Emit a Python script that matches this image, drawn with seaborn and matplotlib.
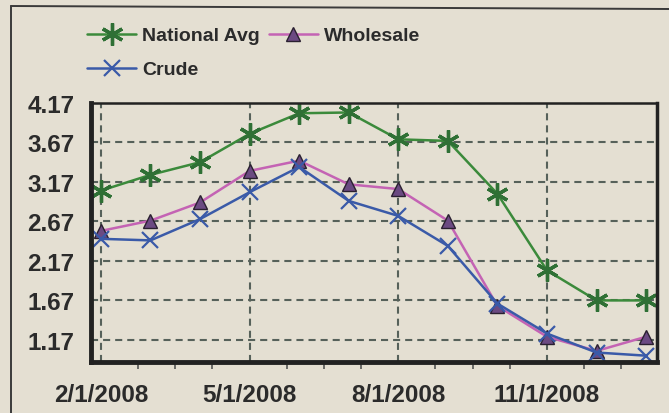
import matplotlib
matplotlib.use("Agg")
import matplotlib.pyplot as plt
import matplotlib.ticker as ticker
from matplotlib.lines import Line2D
import seaborn as sns
import pandas as pd

# monthly gas prices, Feb 2008 - Jan 2009
months = ["2/1/2008", "3/1/2008", "4/1/2008", "5/1/2008", "6/1/2008", "7/1/2008",
          "8/1/2008", "9/1/2008", "10/1/2008", "11/1/2008", "12/1/2008", "1/1/2009"]
national_avg = [3.06, 3.26, 3.42, 3.78, 4.04, 4.05, 3.71, 3.69, 3.02, 2.05, 1.67, 1.67]
wholesale = [2.55, 2.68, 2.91, 3.31, 3.44, 3.14, 3.08, 2.68, 1.60, 1.21, 1.03, 1.21]
crude = [2.45, 2.43, 2.70, 3.04, 3.36, 2.93, 2.74, 2.36, 1.63, 1.25, 1.01, 0.97]
yticks = [1.17, 1.67, 2.17, 2.67, 3.17, 3.67, 4.17]
xtick_months = ["2/1/2008", "5/1/2008", "8/1/2008", "11/1/2008"]

df = pd.DataFrame({"month": months, "National Avg": national_avg,
                   "Wholesale": wholesale, "Crude": crude})
df["pos"] = range(len(df))

paper = "#e4dfd2"
ink = "#2b2b2b"
grid_col = "#56615a"

sns.set_style("white")
plt.rcParams["font.family"] = ["Liberation Sans", "DejaVu Sans"]

fig = plt.figure(figsize=(6.69, 4.14), dpi=100, facecolor=paper)
ax = fig.add_axes([91/669, 1-363/414, (657-91)/669, (363-104)/414])
ax.set_facecolor(paper)

styles = {
    "National Avg": dict(color="#3b8a3b", marker=(6, 2, 0), markersize=16,
                         markeredgewidth=2.4, markeredgecolor="#2f7035"),
    "Wholesale": dict(color="#c463b4", marker="^", markersize=10,
                      markerfacecolor="#6b4a82", markeredgecolor="#2a2030",
                      markeredgewidth=1.0),
    "Crude": dict(color="#3a5aa8", marker="x", markersize=12,
                  markeredgewidth=1.6, markeredgecolor="#3a5aa8"),
}
for name in ["National Avg", "Wholesale", "Crude"]:
    sns.lineplot(data=df, x="pos", y=name, ax=ax, linewidth=1.8,
                 label=name, legend=False, **styles[name])

ax.set_xlim(-0.2, 11.22)
ax.set_ylim(0.89, 4.17)
ax.set_yticks(yticks)
ax.set_yticklabels([f"{v:.2f}" for v in yticks])
ax.set_xticks([months.index(m) for m in xtick_months])
ax.set_xticklabels(xtick_months)
ax.xaxis.set_minor_locator(ticker.MultipleLocator(0.75))
ax.set_xlabel("")
ax.set_ylabel("")

ax.grid(True, which="major", color=grid_col, linewidth=1.5, linestyle=(0, (3.4, 2.4)))
ax.tick_params(axis="both", which="major", length=9, width=1.5, color=grid_col,
               labelsize=17.5, labelcolor=ink, pad=3)
ax.tick_params(axis="x", which="major", pad=6)
ax.tick_params(axis="x", which="minor", length=5, width=1.2, color="#555555", bottom=True)
for lbl in ax.get_xticklabels() + ax.get_yticklabels():
    lbl.set_fontweight("bold")

ax.spines["left"].set_linewidth(3.5)
ax.spines["bottom"].set_linewidth(3.5)
ax.spines["top"].set_linewidth(1.8)
ax.spines["right"].set_linewidth(2.5)
for s in ax.spines.values():
    s.set_color("#222222")

handles, labels = ax.get_legend_handles_labels()
order = [labels.index(n) for n in ["National Avg", "Crude", "Wholesale"]]
fig.legend([handles[i] for i in order], [labels[i] for i in order],
           ncol=2, loc="upper left", bbox_to_anchor=(77/669, 1-18/414),
           bbox_transform=fig.transFigure, frameon=False,
           prop={"size": 14, "weight": "bold"}, handlelength=2.55,
           handletextpad=0.3, columnspacing=0.45, labelspacing=0.85,
           borderpad=0, labelcolor=ink)

# outer frame of the clipping
fig.add_artist(Line2D([11/669, 11/669], [0, 1-7/414], color="#3a3a3a", linewidth=1.4,
                      transform=fig.transFigure))
fig.add_artist(Line2D([11/669, 1], [1-7/414, 1-10/414], color="#3a3a3a", linewidth=1.4,
                      transform=fig.transFigure))

fig.savefig("out.png", dpi=100, facecolor=paper)
